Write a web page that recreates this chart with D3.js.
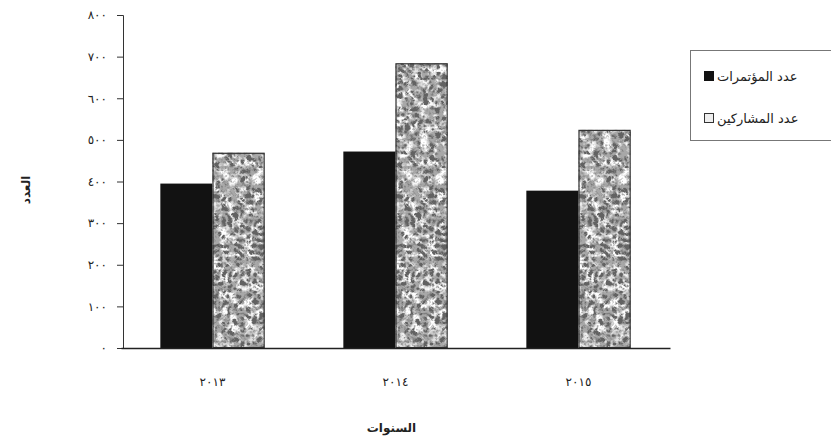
<!DOCTYPE html>
<html>
<head>
<meta charset="utf-8">
<script src="https://cdn.jsdelivr.net/npm/d3@7"></script>
<style>
html,body{margin:0;padding:0;background:#fff;}
svg{display:block;}
text{font-family:"DejaVu Sans","Noto Sans",sans-serif;fill:#222;}
</style>
</head>
<body>
<svg id="chart" width="831" height="441"></svg>
<script>
const categories = ["٢٠١٣", "٢٠١٤", "٢٠١٥"];
const seriesNames = ["عدد المؤتمرات", "عدد المشاركين"];
const conferences = [395, 472, 378];
const participants = [469, 684, 524];
const yTickValues = [0, 100, 200, 300, 400, 500, 600, 700, 800];
const yTickLabels = ["٠", "١٠٠", "٢٠٠", "٣٠٠", "٤٠٠", "٥٠٠", "٦٠٠", "٧٠٠", "٨٠٠"];
const yTitle = "العدد";
const xTitle = "السنوات";

const svg = d3.select("#chart");

const defs = svg.append("defs");
const f = defs.append("filter").attr("id","speckle")
  .attr("x",0).attr("y",0).attr("width","100%").attr("height","100%");
f.append("feTurbulence").attr("type","turbulence").attr("baseFrequency","0.16")
  .attr("numOctaves",3).attr("seed",7).attr("result","t");
f.append("feColorMatrix").attr("in","t").attr("type","matrix")
  .attr("values","0 0 0 0 0.12  0 0 0 0 0.12  0 0 0 0 0.12  3.2 0 0 0 -0.55").attr("result","dark");
f.append("feTurbulence").attr("type","fractalNoise").attr("baseFrequency","0.12")
  .attr("numOctaves",3).attr("seed",23).attr("result","t2");
f.append("feColorMatrix").attr("in","t2").attr("type","matrix")
  .attr("values","0 0 0 0 1  0 0 0 0 1  0 0 0 0 1  -4 0 0 0 2.3").attr("result","light");
f.append("feMerge").call(m=>{
  m.append("feMergeNode").attr("in","SourceGraphic");
  m.append("feMergeNode").attr("in","light");
  m.append("feMergeNode").attr("in","dark");
}).attr("result","merged");
f.append("feComposite").attr("in","merged").attr("in2","SourceGraphic").attr("operator","in");

const plot = {left:121, right:670, top:15, bottom:348};

const x0 = d3.scaleBand().domain(categories).range([plot.left, plot.right]).padding(0);
const groupFrac = 0.57;
const x1 = d3.scaleBand().domain(seriesNames)
  .range([x0.bandwidth()*(1-groupFrac)/2, x0.bandwidth()*(1+groupFrac)/2]).padding(0);
const y = d3.scaleLinear().domain([0, 800]).range([plot.bottom, plot.top]);

// y axis
const yAxis = d3.axisLeft(y).tickValues(yTickValues)
  .tickFormat((d,i)=>yTickLabels[i]).tickSize(6).tickPadding(10);
const gy = svg.append("g").attr("transform",`translate(${plot.left+2},0)`).call(yAxis);
gy.select(".domain").attr("stroke","#333").attr("stroke-width",1);
gy.selectAll(".tick line").attr("stroke","#333");
gy.selectAll(".tick text").style("font-size","12px").attr("fill","#333");

// bars
const rows = categories.map((c,i)=>({cat:c, vals:[conferences[i], participants[i]]}));
const groups = svg.append("g").selectAll("g").data(rows).join("g")
  .attr("transform", d=>`translate(${x0(d.cat)},0)`);
groups.append("rect")
  .attr("x", x1(seriesNames[0])).attr("width", x1.bandwidth())
  .attr("y", d=>y(d.vals[0])).attr("height", d=>y(0)-y(d.vals[0]))
  .attr("fill","#121212");
groups.append("rect")
  .attr("x", x1(seriesNames[1])).attr("width", x1.bandwidth())
  .attr("y", d=>y(d.vals[1])).attr("height", d=>y(0)-y(d.vals[1]))
  .attr("fill","#a8a8a8").attr("filter","url(#speckle)");
groups.append("rect")
  .attr("x", x1(seriesNames[1])+0.5).attr("width", x1.bandwidth()-1)
  .attr("y", d=>y(d.vals[1])+0.5).attr("height", d=>y(0)-y(d.vals[1])-1)
  .attr("fill","none").attr("stroke","#333").attr("stroke-width",1.2);

// x axis
const xAxis = d3.axisBottom(x0).tickSize(0).tickPadding(29);
const gx = svg.append("g").attr("transform",`translate(0,${plot.bottom})`).call(xAxis);
gx.select(".domain").attr("stroke","#222").attr("stroke-width",1.3);
gx.selectAll(".tick text").style("font-size","12px").attr("fill","#333");

// titles
svg.append("text").attr("x", (plot.left+plot.right)/2 - 4).attr("y", 432)
  .attr("text-anchor","middle").style("font-size","12px").style("font-weight","bold")
  .text(xTitle);
svg.append("text").attr("transform","translate(30,190) rotate(-90)")
  .attr("text-anchor","middle").style("font-size","12px").style("font-weight","bold")
  .text(yTitle);

// legend
const lg = svg.append("g");
lg.append("rect").attr("x",690.5).attr("y",50.5).attr("width",150).attr("height",90)
  .attr("fill","#fff").attr("stroke","#777").attr("stroke-width",1);
const legendY = d3.scalePoint().domain(seriesNames).range([76,118]);
seriesNames.forEach((s,i)=>{
  const cy = legendY(s);
  if(i===0){
    lg.append("rect").attr("x",704).attr("y",cy-5).attr("width",10).attr("height",10).attr("fill","#121212");
  } else {
    lg.append("rect").attr("x",704).attr("y",cy-5).attr("width",10).attr("height",10)
      .attr("fill","#eee");
    lg.append("rect").attr("x",704.5).attr("y",cy-4.5).attr("width",9).attr("height",9)
      .attr("fill","none").attr("stroke","#333");
  }
  lg.append("text").attr("x",717).attr("y",cy+5).attr("text-anchor","start")
    .style("font-size","13px").text(s);
});
</script>
</body>
</html>
